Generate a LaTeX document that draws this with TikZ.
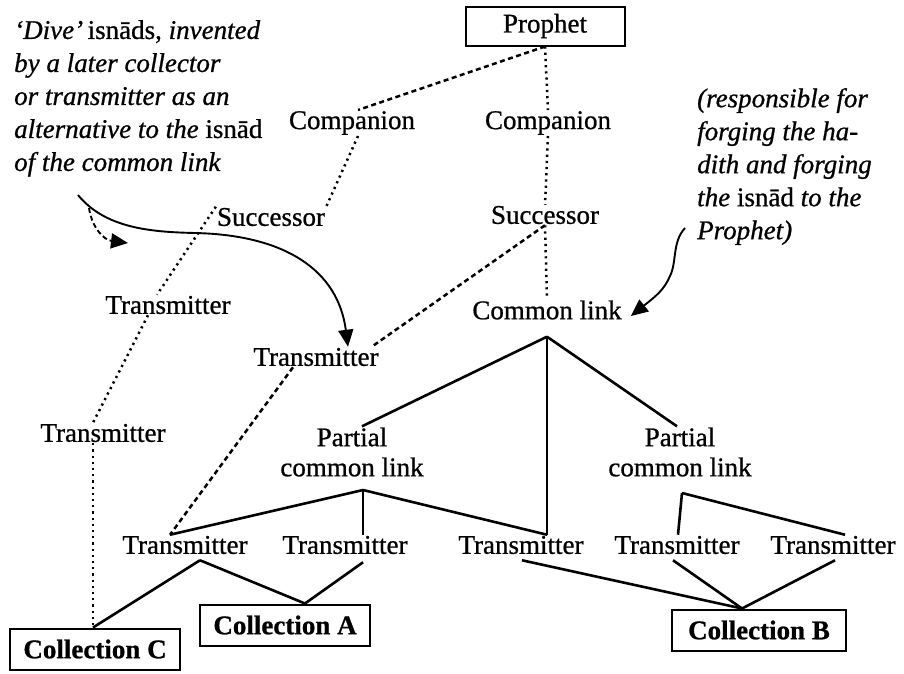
\documentclass[tikz,border=0pt]{standalone}
\usepackage{fontspec}
\setmainfont{Liberation Serif}[
  UprightFeatures={FakeBold=0.8},
  ItalicFeatures={FakeBold=0.8},
  BoldFeatures={FakeBold=0.8}]
\usetikzlibrary{arrows.meta}
\begin{document}
\begin{tikzpicture}[x=1pt,y=-1pt,
  every node/.style={font=\fontsize{27}{30}\selectfont, inner sep=1pt},
  frame/.style={draw, line width=2pt, minimum height=39pt, inner xsep=8pt},
  cbox/.style={frame, font=\fontsize{27}{30}\selectfont\bfseries, minimum height=41pt},
  note/.style={align=left, font=\fontsize{27}{33}\selectfont\itshape, inner sep=0pt},
  dotline/.style={line width=2.5pt, dash pattern=on 2.2pt off 4pt},
  dashline/.style={line width=2.5pt, dash pattern=on 5pt off 3.5pt},
  link/.style={line width=2.6pt},
  pointer/.style={line width=1.9pt, -{Triangle[length=17pt,width=15pt]}}
]
\useasboundingbox (0,0) rectangle (904,673);

% chain heads
\node[frame, minimum width=159pt] (P) at (545,26) {Prophet};
\node (C1) at (352,123) {Companion};
\node (C2) at (548,123) {Companion};
\node (S1) at (271,217) {Successor};
\node (S2) at (545,215) {Successor};
\node (CL) at (547,310) {Common link};

% side transmitters
\node (T1a) at (168,305) {Transmitter};
\node (T1b) at (103,433) {Transmitter};
\node (TM)  at (316,357) {Transmitter};

% partial common links
\node[align=center] (PL) at (352,452) {Partial\\common link};
\node[align=center] (PR) at (680,452) {Partial\\common link};

% lower transmitters
\node (B1) at (185,545) {Transmitter};
\node (B2) at (345,545) {Transmitter};
\node (B3) at (521,545) {Transmitter};
\node (B4) at (677,545) {Transmitter};
\node (B5) at (833,545) {Transmitter};

% collections
\node[cbox, minimum width=170pt] (CC) at (95,649) {Collection C};
\node[cbox, minimum width=170pt] (CA) at (285,625) {Collection A};
\node[cbox, minimum width=174pt] (CB) at (759,630) {Collection B};

% junction points below the branching links
\coordinate (CLj) at ([yshift=-16pt]CL.south);
\coordinate (PLj) at (363,490);
\coordinate (PRj) at (682,493);

% annotations
\node[note, anchor=north west] (LA) at (14,20)
  {`Dive'\,\upshape isnāds, \itshape invented\\
   by a later collector\\
   or transmitter as an\\
   alternative to the \upshape isnād\\
   \itshape of the common link};
\node[note, anchor=north west] (RA) at (697,88)
  {(responsible for\\
   forging the ha-\\
   dith and forging\\
   the \upshape isnād \itshape to the\\
   Prophet)};

% dotted and dashed isnad lines
\draw[dashline] (P.south) -- ([xshift=6pt]C1.north);
\draw[dotline] (P.south) -- (C2.north);
\draw[dotline] (C2.south) -- (S2.north);
\draw[dotline] (S2.south) -- (CL.north);
\draw[dashline] (S2.south) -- ([xshift=-8pt]TM.north east);
\draw[dotline] ([xshift=6pt]C1.south) -- (S1.north east);
\draw[dotline] (S1.north west) -- ([xshift=-11pt]T1a.north);
\draw[dotline] ([xshift=-20pt]T1a.south) -- ([xshift=-10pt]T1b.north);
\draw[dotline] ([xshift=-10pt]T1b.south) -- ([xshift=-2pt]CC.north);
\draw[dashline] ([xshift=-23pt]TM.south) -- ([xshift=-15pt]B1.north);

% solid links
\draw[link] (CLj) -- ([xshift=10pt]PL.north);
\draw[link] (CLj) -- ([xshift=26pt]B3.north);
\draw[link] (CLj) -- ([xshift=-3pt]PR.north);
\draw[link] (PLj) -- ([xshift=-15pt]B1.north);
\draw[link] (PLj) -- ([xshift=18pt]B2.north);
\draw[link] (PLj) -- ([xshift=26pt]B3.north);
\draw[link] (PRj) -- ([xshift=1pt]B4.north);
\draw[link] (PRj) -- ([xshift=12pt]B5.north);

\draw[link] ([xshift=15pt,yshift=-5pt]B1.south) -- ([xshift=-2pt]CC.north);
\draw[link] ([xshift=15pt,yshift=-5pt]B1.south) -- ([xshift=20pt]CA.north);
\draw[link] ([xshift=18pt,yshift=-7pt]B2.south) -- ([xshift=20pt]CA.north);
\draw[link] ([xshift=1pt,yshift=-5pt]B3.south) -- ([xshift=-17pt]CB.north);
\draw[link] ([xshift=-4pt,yshift=-5pt]B4.south) -- ([xshift=-17pt]CB.north);
\draw[link] ([xshift=2pt,yshift=-5pt]B5.south) -- ([xshift=-17pt]CB.north);

% annotation pointers
\coordinate (la0) at (78,195);
\coordinate (la1) at (89,208);
\coordinate (la2) at (128,243);
\coordinate (ra0) at (685,228);
\draw[pointer] (la0) .. controls (105,228) and (150,232) .. (195,233)
  .. controls (285,235) and (338,270) .. ([xshift=32pt]TM.north);
\draw[pointer, dash pattern=on 5pt off 3pt] (la1) .. controls (92,228) and (104,240) .. (la2);
\draw[pointer] (ra0) .. controls (672,242) and (677,262) .. (670,276)
  .. controls (664,290) and (656,296) .. ([xshift=8pt,yshift=-6pt]CL.east);
\end{tikzpicture}
\end{document}
